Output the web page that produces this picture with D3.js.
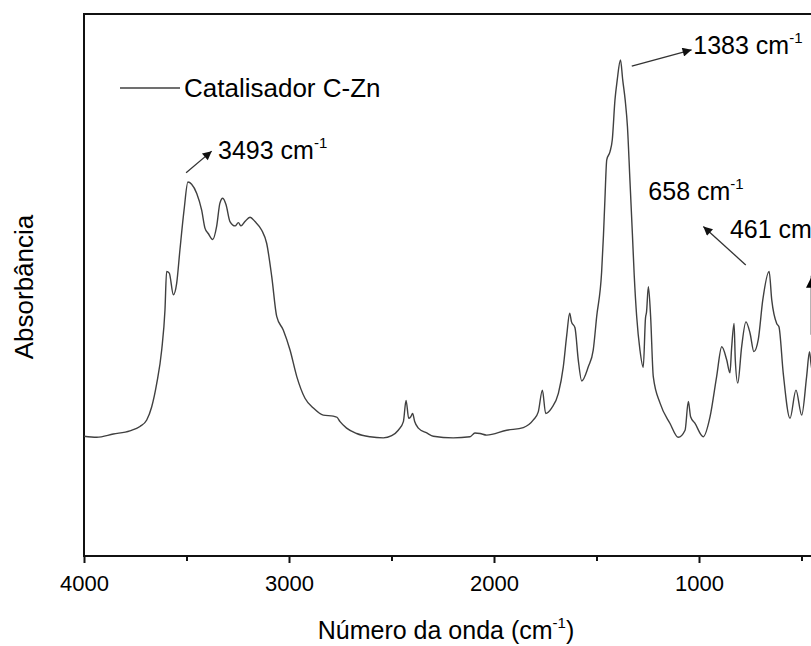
<!DOCTYPE html>
<html>
<head>
<meta charset="utf-8">
<script src="https://cdn.jsdelivr.net/npm/d3@7"></script>
<style>
  body { margin: 0; background: #fff; }
  svg { display: block; }
  text { font-family: "Liberation Sans", Arial, Helvetica, sans-serif; fill: #000; }
</style>
</head>
<body>
<svg id="chart" width="811" height="646"></svg>
<script>
// FTIR spectrum of the C-Zn catalyst (wavenumber in cm-1, absorbance in arbitrary units)
const wavenumber = [
  4000, 3938, 3857, 3776, 3727, 3694, 3670, 3645, 3621, 3605,
  3597, 3584, 3564, 3548, 3532, 3512, 3493, 3475, 3450, 3426,
  3410, 3394, 3372, 3353, 3337, 3323, 3307, 3288, 3263, 3247,
  3234, 3215, 3190, 3166, 3133, 3109, 3084, 3060, 3028, 2995,
  2962, 2922, 2881, 2833, 2784, 2766, 2751, 2719, 2670, 2605,
  2540, 2499, 2467, 2442, 2429, 2416, 2406, 2397, 2387, 2369,
  2328, 2296, 2199, 2117, 2093, 2068, 2036, 1938, 1857, 1808,
  1784, 1764, 1748, 1719, 1686, 1662, 1645, 1631, 1622, 1605,
  1589, 1572, 1540, 1516, 1499, 1475, 1466, 1459, 1450, 1434,
  1423, 1410, 1399, 1383, 1372, 1360, 1349, 1337, 1325, 1316,
  1304, 1288, 1272, 1261, 1256, 1247, 1236, 1223, 1190, 1142,
  1101, 1068, 1052, 1041, 1020, 979, 946, 914, 889, 865,
  849, 841, 829, 823, 811, 792, 771, 751, 732, 711,
  689, 658, 645, 621, 610, 589, 556, 527, 499, 475,
  461, 454, 434, 400
];
const absorbance = [
  0.221, 0.219, 0.225, 0.231, 0.239, 0.251, 0.275, 0.319, 0.380, 0.454,
  0.525, 0.522, 0.482, 0.503, 0.565, 0.638, 0.690, 0.686, 0.669, 0.638,
  0.605, 0.595, 0.584, 0.608, 0.651, 0.660, 0.648, 0.617, 0.609, 0.615,
  0.609, 0.617, 0.625, 0.617, 0.601, 0.577, 0.515, 0.442, 0.417, 0.380,
  0.331, 0.291, 0.273, 0.260, 0.258, 0.256, 0.248, 0.236, 0.226, 0.220,
  0.218, 0.222, 0.232, 0.248, 0.287, 0.254, 0.257, 0.263, 0.248, 0.236,
  0.227, 0.221, 0.218, 0.220, 0.227, 0.226, 0.223, 0.232, 0.237, 0.251,
  0.266, 0.306, 0.263, 0.273, 0.300, 0.349, 0.408, 0.448, 0.432, 0.421,
  0.362, 0.323, 0.349, 0.380, 0.442, 0.524, 0.592, 0.657, 0.731, 0.746,
  0.768, 0.841, 0.878, 0.915, 0.878, 0.841, 0.792, 0.694, 0.595, 0.518,
  0.442, 0.380, 0.348, 0.439, 0.450, 0.497, 0.442, 0.331, 0.282, 0.245,
  0.219, 0.232, 0.285, 0.257, 0.245, 0.220, 0.257, 0.331, 0.386, 0.362,
  0.338, 0.383, 0.429, 0.362, 0.319, 0.386, 0.432, 0.411, 0.377, 0.399,
  0.472, 0.525, 0.472, 0.429, 0.423, 0.337, 0.254, 0.306, 0.260, 0.331,
  0.377, 0.356, 0.316, 0.297
];

const majorTicks = [4000, 3000, 2000, 1000];
const minorTicks = [3500, 2500, 1500, 500];
const seriesName = "Catalisador C-Zn";
const xTitle = "Número da onda (cm";
const yTitle = "Absorbância";

// Band assignments: label, text anchor (wavenumber, absorbance)
const bandLabels = ["3493", "1383", "658", "461"];
const bandTextWn = [3346, 1028, 1247, 849];
const bandTextAbs = [0.732, 0.927, 0.657, 0.586];
// Pointer arrows: from (wn, abs) to (wn, abs)
const arrowFromWn = [3502, 1328, 772, 449];
const arrowFromAbs = [0.707, 0.904, 0.537, 0.408];
const arrowToWn = [3377, 1036, 979, 449];
const arrowToAbs = [0.747, 0.934, 0.608, 0.517];
const arrowBold = [false, false, false, true];

const svg = d3.select("#chart");
const plotL = 84, plotR = 822, plotT = 14, plotB = 556;

const x = d3.scaleLinear().domain([4000, 400]).range([plotL, plotR]);
const y = d3.scaleLinear().domain([0, 1]).range([plotB, plotT]);

const spectrum = wavenumber.map((w, i) => ({ w, a: absorbance[i] }));

// arrow heads
const defs = svg.append("defs");
defs.append("marker")
  .attr("id", "head").attr("markerUnits", "userSpaceOnUse")
  .attr("viewBox", "0 0 10 10").attr("refX", 10).attr("refY", 5)
  .attr("markerWidth", 11).attr("markerHeight", 9).attr("orient", "auto")
  .append("path").attr("d", "M0,0 L10,5 L0,10 Z").attr("fill", "#111");
defs.append("marker")
  .attr("id", "headBold").attr("markerUnits", "userSpaceOnUse")
  .attr("viewBox", "0 0 10 10").attr("refX", 10).attr("refY", 5)
  .attr("markerWidth", 14).attr("markerHeight", 12).attr("orient", "auto")
  .append("path").attr("d", "M0,0 L10,5 L0,10 Z").attr("fill", "#000");

// plot frame (right edge falls just outside the page)
svg.append("rect")
  .attr("x", plotL).attr("y", plotT)
  .attr("width", plotR - plotL).attr("height", plotB - plotT)
  .attr("fill", "none").attr("stroke", "#111").attr("stroke-width", 2);

// spectrum trace
svg.append("path")
  .datum(spectrum)
  .attr("fill", "none")
  .attr("stroke", "#404040")
  .attr("stroke-width", 1.4)
  .attr("stroke-linejoin", "round")
  .attr("d", d3.line().x(d => x(d.w)).y(d => y(d.a)).curve(d3.curveMonotoneX));

// bottom axis: major ticks with labels, minor ticks without
const xAxis = svg.append("g")
  .attr("transform", `translate(0,${plotB})`)
  .call(d3.axisBottom(x).tickValues(majorTicks).tickFormat(d3.format("d"))
    .tickSize(7).tickPadding(12).tickSizeOuter(0));
xAxis.select(".domain").remove();
xAxis.selectAll(".tick line").attr("stroke", "#111").attr("stroke-width", 2);
xAxis.selectAll(".tick text").attr("font-size", 22).attr("fill", "#000")
  .style("font-family", '"Liberation Sans", Arial, sans-serif');

const xMinor = svg.append("g")
  .attr("transform", `translate(0,${plotB})`)
  .call(d3.axisBottom(x).tickValues(minorTicks).tickFormat("").tickSize(5).tickSizeOuter(0));
xMinor.select(".domain").remove();
xMinor.selectAll(".tick line").attr("stroke", "#111").attr("stroke-width", 2);

// axis titles
const xt = svg.append("text")
  .attr("x", 446).attr("y", 639)
  .attr("text-anchor", "middle")
  .attr("font-size", 25);
xt.append("tspan").text(xTitle);
xt.append("tspan").attr("font-size", 15).attr("dy", -11).text("-1");
xt.append("tspan").attr("dy", 11).text(")");

svg.append("text")
  .attr("transform", "translate(33,287) rotate(-90)")
  .attr("text-anchor", "middle")
  .attr("font-size", 26)
  .text(yTitle);

// legend
svg.append("line")
  .attr("x1", 120).attr("x2", 180).attr("y1", 88).attr("y2", 88)
  .attr("stroke", "#404040").attr("stroke-width", 1.4);
svg.append("text")
  .attr("x", 184).attr("y", 97)
  .attr("font-size", 26)
  .text(seriesName);

// band pointer arrows
arrowFromWn.forEach((w, i) => {
  svg.append("line")
    .attr("x1", x(w)).attr("y1", y(arrowFromAbs[i]))
    .attr("x2", x(arrowToWn[i])).attr("y2", y(arrowToAbs[i]))
    .attr("stroke", arrowBold[i] ? "#000" : "#333")
    .attr("stroke-width", arrowBold[i] ? 2.5 : 1.3)
    .attr("marker-end", arrowBold[i] ? "url(#headBold)" : "url(#head)");
});

// band labels
bandLabels.forEach((lab, i) => {
  const t = svg.append("text")
    .attr("x", x(bandTextWn[i])).attr("y", y(bandTextAbs[i]))
    .attr("font-size", 25);
  t.append("tspan").text(lab + " cm");
  t.append("tspan").attr("font-size", 15).attr("dy", -11).text("-1");
});
</script>
</body>
</html>
